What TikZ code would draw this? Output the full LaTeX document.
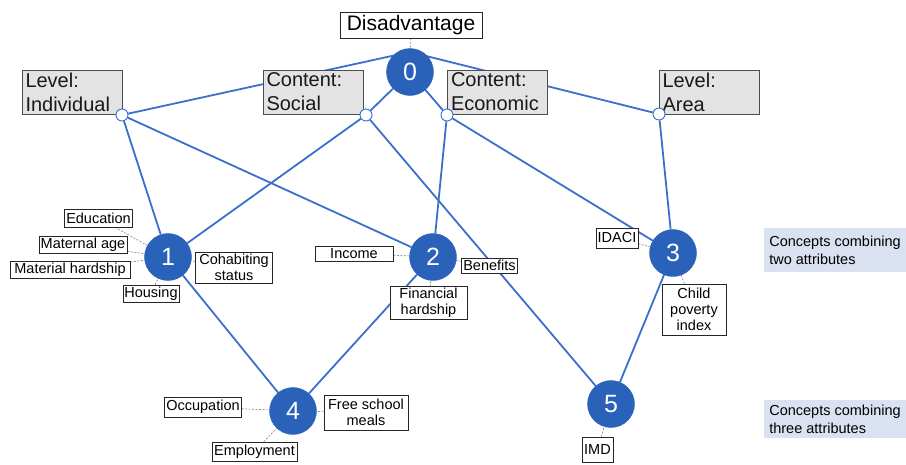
\documentclass[tikz,border=0pt]{standalone}
\usepackage{fontspec}
\setmainfont{Liberation Sans}
\definecolor{nodeblue}{HTML}{2A62B9}
\definecolor{lineblue}{HTML}{3A6FCB}
\definecolor{boxgray}{HTML}{E3E3E3}
\definecolor{legendfill}{HTML}{DAE1F0}
\pgfdeclarelayer{bg}
\pgfsetlayers{bg,main}
\tikzset{
  num/.style={circle, fill=nodeblue, draw=nodeblue, minimum size=47pt, inner sep=0pt, text=white, font=\fontsize{25}{25}\selectfont},
  jn/.style={circle, draw=lineblue, fill=white, line width=0.9pt, minimum size=12pt, inner sep=0pt},
  attr/.style={draw=black!70, fill=boxgray, line width=0.9pt, align=left, text width=93pt, inner xsep=3.5pt, minimum height=44pt, inner ysep=0pt, font=\fontsize{20}{24}\selectfont, text=black!90},
  lab/.style={draw=black!85, fill=white, line width=0.7pt, align=center, inner sep=1.5pt, font=\fontsize{14.5}{16}\selectfont},
  edge/.style={draw=lineblue, line width=1.8pt},
  lead/.style={draw=gray, dash pattern=on 2pt off 1.5pt, line width=0.6pt},
  legend/.style={fill=legendfill, align=left, minimum width=142pt, font=\fontsize{14.5}{18}\selectfont}
}
\begin{document}
\begin{tikzpicture}[x=1pt,y=-1pt]
\useasboundingbox (0,0) rectangle (906,464);
% attribute boxes
\node[lab, font=\fontsize{21}{24}\selectfont, minimum width=142pt, minimum height=26pt] (dis) at (411,25) {Disadvantage};
\node[attr] (ind) at (72,92) {Level:\\Individual};
\node[attr] (soc) at (313,92) {Content:\\Social};
\node[attr] (eco) at (497.5,92) {Content:\\Economic};
\node[attr] (area) at (709,92) {Level:\\Area};
% junction circles
\node[jn] (jInd) at (122,115) {};
\node[jn] (jSoc) at (366,115) {};
\node[jn] (jEco) at (447,115) {};
\node[jn] (jArea) at (659,114) {};
% concept nodes
\node[num] (n0) at (410,72) {0};
\coordinate (n0top) at (410,52);
\node[num] (n1) at (168,257) {1};
\node[num] (n2) at (433,257) {2};
\node[num] (n3) at (673,253) {3};
\node[num] (n4) at (293,411) {4};
\node[num] (n5) at (611,404) {5};
% labels
\node[lab, minimum width=65pt, minimum height=18pt] (edu) at (98.5,218) {Education};
\node[lab, minimum width=88pt, minimum height=16pt] (mat) at (83,245) {Maternal age};
\node[lab, minimum width=120pt, minimum height=17pt] (mhard) at (70,270) {Material hardship};
\node[lab, minimum width=56pt, minimum height=17pt] (hous) at (151,293.5) {Housing};
\node[lab, minimum width=77pt, minimum height=31pt] (cohab) at (234,267.5) {Cohabiting\\status};
\node[lab, minimum width=78pt, minimum height=15pt] (inc) at (354,253.5) {Income};
\node[lab, minimum width=55pt, minimum height=15pt] (ben) at (489.5,265.5) {Benefits};
\node[lab, minimum width=77pt, minimum height=32pt] (fin) at (428.5,303) {Financial\\hardship};
\node[lab, minimum width=42pt, minimum height=20pt] (idaci) at (617,238) {IDACI};
\node[lab, minimum width=64pt, minimum height=51pt] (cpi) at (694,309.5) {Child\\poverty\\index};
\node[lab, minimum width=74pt, minimum height=20pt] (occ) at (203,407) {Occupation};
\node[lab, minimum width=84pt, minimum height=35pt] (fsm) at (366,412.5) {Free school\\meals};
\node[lab, minimum width=85pt, minimum height=19pt] (emp) at (254.5,451.5) {Employment};
\node[lab, minimum width=31pt, minimum height=25pt] (imd) at (597.5,449.5) {IMD};
% legend
\node[legend, minimum height=44pt] (leg2) at (835,250) {Concepts combining\\two attributes};
\node[legend, minimum height=38pt] (leg3) at (835,419) {Concepts combining\\three attributes};
% connectors
\begin{pgfonlayer}{bg}
\draw[edge] (n0top) -- (jInd);
\draw[edge] (n0top) -- (jArea);
\draw[edge] (n0) -- (jSoc);
\draw[edge] (n0) -- (jEco);
\draw[edge] (jInd) -- (n1);
\draw[edge] (jInd) -- (n2);
\draw[edge] (jSoc) -- (n1);
\draw[edge] (jSoc) -- (n5);
\draw[edge] (jEco) -- (n2);
\draw[edge] (jEco) -- (n3);
\draw[edge] (jArea) -- (n3);
\draw[edge] (n1) -- (n4);
\draw[edge] (n2) -- (n4);
\draw[edge] (n3) -- (n5);
\draw[lead] (dis) -- (n0);
\draw[lead] (edu) -- (n1);
\draw[lead] (mat) -- (n1);
\draw[lead] (mhard) -- (n1);
\draw[lead] (hous) -- (n1);
\draw[lead] (cohab) -- (n1);
\draw[lead] (inc) -- (n2);
\draw[lead] (ben) -- (n2);
\draw[lead] (fin) -- (n2);
\draw[lead] (idaci) -- (n3);
\draw[lead] (cpi) -- (n3);
\draw[lead] (occ) -- (n4);
\draw[lead] (fsm) -- (n4);
\draw[lead] (emp) -- (n4);
\draw[lead] (imd) -- (n5);
\end{pgfonlayer}
\end{tikzpicture}
\end{document}
